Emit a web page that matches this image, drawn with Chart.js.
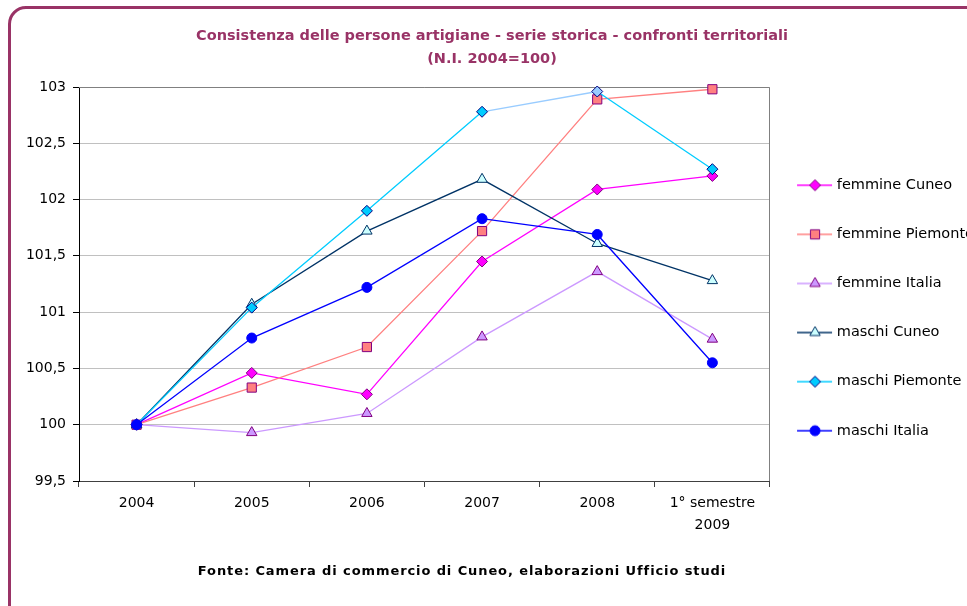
<!DOCTYPE html>
<html>
<head>
<meta charset="utf-8">
<script src="https://cdn.jsdelivr.net/npm/chart.js@4.4.1/dist/chart.umd.min.js"></script>
<style>
html, body { margin: 0; padding: 0; background: #fff; overflow: hidden; width: 967px; height: 606px; }
#frame { position: absolute; left: 8px; top: 6px; width: 1000px; height: 640px; border: 3px solid #993366; border-radius: 18px; box-sizing: border-box; }
#c { position: absolute; left: 0; top: 0; display: block; }
#fonte { position: absolute; left: 0; width: 924px; top: 563px; text-align: center; font: bold 13px "DejaVu Sans", sans-serif; letter-spacing: 0.9px; color: #000; }
</style>
</head>
<body>
<div id="frame"></div>
<canvas id="c" width="1000" height="606"></canvas>
<div id="fonte">Fonte: Camera di commercio di Cuneo, elaborazioni Ufficio studi</div>
<script>
// Valori (N.I. 2004 = 100)
var categories = ['2004', '2005', '2006', '2007', '2008', ['1° semestre', '2009']];
var femmineCuneo    = [100, 100.46, 100.27, 101.45, 102.09, 102.21];
var femminePiemonte = [100, 100.33, 100.69, 101.72, 102.89, 102.98];
var femmineItalia   = [100, 99.93, 100.10, 100.78, 101.36, 100.76];
var maschiCuneo     = [100, 101.07, 101.72, 102.18, 101.61, 101.28];
var maschiPiemonte  = [100, 101.04, 101.90, 102.78, 102.96, 102.27];
var maschiItalia    = [100, 100.77, 101.22, 101.83, 101.69, 100.55];
var yTicks = [99.5, 100, 100.5, 101, 101.5, 102, 102.5, 103];

var FONT = 'DejaVu Sans';

var series = [
    { label: 'femmine Cuneo',    data: femmineCuneo,    line: '#ff00ff', fill: '#ff00ff', border: '#800080', style: 'rectRot',  radius: 5.5 },
    { label: 'femmine Piemonte', data: femminePiemonte, line: '#ff8080', fill: '#ff8080', border: '#800080', style: 'rect',     radius: 6.5 },
    { label: 'femmine Italia',   data: femmineItalia,   line: '#cc99ff', fill: '#cc99ff', border: '#800080', style: 'triangle', radius: 6 },
    { label: 'maschi Cuneo',     data: maschiCuneo,     line: '#003366', fill: '#ccffff', border: '#003366', style: 'triangle', radius: 6 },
    { label: 'maschi Piemonte',  data: maschiPiemonte,  line: '#00ccff', fill: '#00ccff', border: '#000080', style: 'rectRot',  radius: 5.5 },
    { label: 'maschi Italia',    data: maschiItalia,    line: '#0000ff', fill: '#0000ff', border: '#0000ff', style: 'circle',   radius: 5 }
];

// small line + marker image used as legend symbol
function legendSwatch(s) {
    var c = document.createElement('canvas');
    c.width = 42; c.height = 16;
    var g = c.getContext('2d');
    g.strokeStyle = s.line;
    g.lineWidth = 1.5;
    g.beginPath(); g.moveTo(1, 8); g.lineTo(36, 8); g.stroke();
    g.fillStyle = s.fill;
    g.strokeStyle = s.border;
    g.lineWidth = 1;
    Chart.helpers.drawPoint(g, { pointStyle: s.style, radius: s.radius, rotation: 0, borderWidth: 1 }, 19, 8);
    return c;
}
var swatches = series.map(legendSwatch);

function fmt(v) {
    return String(Math.round(v * 10) / 10).replace('.', ',');
}

// grey frame on top and right of the plot area
var plotFrame = {
    id: 'plotFrame',
    beforeDatasetsDraw: function (chart) {
        var a = chart.chartArea, ctx = chart.ctx;
        ctx.save();
        ctx.strokeStyle = '#808080';
        ctx.lineWidth = 1;
        ctx.beginPath();
        ctx.moveTo(a.left, Math.round(a.top) + 0.5);
        ctx.lineTo(Math.round(a.right) - 0.5, Math.round(a.top) + 0.5);
        ctx.lineTo(Math.round(a.right) - 0.5, a.bottom);
        ctx.stroke();
        ctx.restore();
    }
};

function config() {
    return {
        type: 'line',
        data: {
            labels: categories,
            datasets: series.map(function (s, i) {
                var ds = {
                    label: s.label,
                    data: s.data,
                    borderColor: s.line,
                    backgroundColor: s.fill,
                    borderWidth: 1.3,
                    tension: 0,
                    pointStyle: s.style,
                    pointRadius: s.radius,
                    pointBackgroundColor: s.fill,
                    pointBorderColor: s.border,
                    pointBorderWidth: 1,
                    clip: false,
                    order: series.length - i
                };
                if (s.label === 'maschi Piemonte') {
                    ds.segment = { borderColor: function (ctx) { return ctx.p0DataIndex === 3 ? '#99ccff' : undefined; } };
                    ds.pointBackgroundColor = function (ctx) { return ctx.dataIndex === 4 ? '#99ccff' : s.fill; };
                }
                return ds;
            })
        },
        plugins: [plotFrame],
        options: {
            responsive: false,
            devicePixelRatio: 1,
            animation: false,
            layout: { padding: 0 },
            plugins: {
                title: {
                    display: true,
                    text: ['Consistenza delle persone artigiane - serie storica - confronti territoriali', '(N.I. 2004=100)'],
                    color: '#993366',
                    font: { family: FONT, size: 14.5, weight: 'bold', lineHeight: '23px' },
                    padding: { top: 25, bottom: 16 }
                },
                legend: {
                    position: 'right',
                    align: 'center',
                    title: { display: true, text: ' ', font: { size: 10, lineHeight: 1 }, padding: 0 },
                    labels: {
                        usePointStyle: true,
                        pointStyleWidth: 25,
                        padding: 34.6,
                        color: '#000',
                        font: { family: FONT, size: 14.5 },
                        generateLabels: function () {
                            return series.map(function (s, i) {
                                return { text: s.label, pointStyle: swatches[i], datasetIndex: i, hidden: false, lineWidth: 0, fontColor: '#000' };
                            });
                        }
                    }
                },
                tooltip: { enabled: false }
            },
            scales: {
                x: {
                    offset: true,
                    grid: { offset: true, drawOnChartArea: false, drawTicks: true, tickLength: 6, tickColor: '#404040' },
                    border: { color: '#404040', width: 1 },
                    ticks: { color: '#000', font: { family: FONT, size: 14, lineHeight: '22px' }, padding: 5, maxRotation: 0, autoSkip: false },
                    afterFit: function (s) { s.height = 125; }
                },
                y: {
                    min: 99.5,
                    max: 103,
                    grid: { color: '#c0c0c0', tickColor: '#000', tickLength: 6 },
                    border: { color: '#000', width: 1 },
                    ticks: { color: '#000', font: { family: FONT, size: 14 }, padding: 7, callback: fmt },
                    afterBuildTicks: function (s) { s.ticks = yTicks.map(function (v) { return { value: v }; }); },
                    afterFit: function (s) { s.width = 79; }
                }
            }
        }
    };
}

var canvas = document.getElementById('c');
function build(w) {
    canvas.width = w;
    canvas.height = 606;
    canvas.style.width = w + 'px';
    canvas.style.height = '606px';
    return new Chart(canvas, config());
}
var chart = build(1000);
var w = Math.round(1000 - (chart.chartArea.right - 770));
if (w !== 1000) {
    chart.destroy();
    chart = build(w);
}
</script>
</body>
</html>
